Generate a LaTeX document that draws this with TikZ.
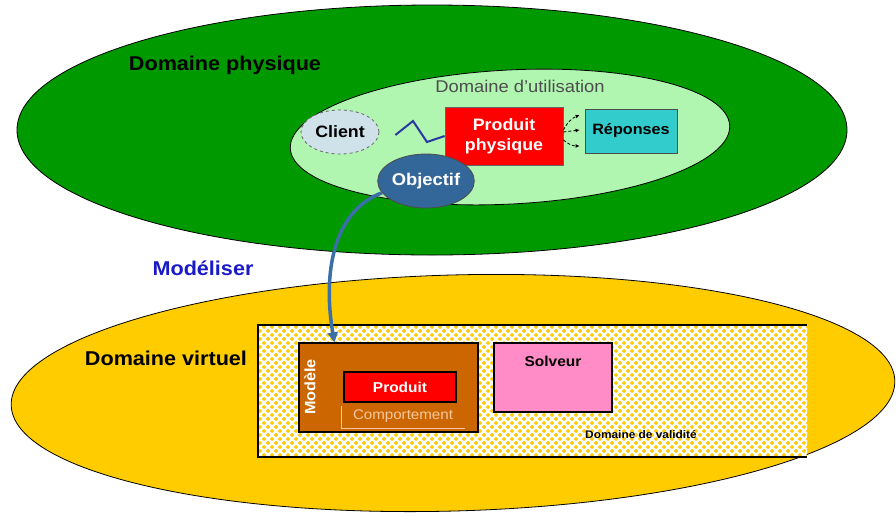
\documentclass[tikz,border=0pt]{standalone}
\usepackage{fontspec}
\setmainfont{Liberation Sans}[FakeStretch=1.08]
\usetikzlibrary{shapes.geometric,patterns.meta,arrows.meta,calc}
\definecolor{dgreen}{HTML}{009A00}
\definecolor{lgreen}{HTML}{B0F5B0}
\definecolor{clientc}{HTML}{CFE2EA}
\definecolor{cyanc}{HTML}{33CCCC}
\definecolor{objc}{HTML}{336699}
\definecolor{arrc}{HTML}{3A6FA8}
\definecolor{wavec}{HTML}{2838A0}
\definecolor{modc}{HTML}{1A1AC8}
\definecolor{yellowc}{HTML}{FFCC00}
\definecolor{brownc}{HTML}{CC6600}
\definecolor{pinkc}{HTML}{FF8CC6}
\definecolor{peach}{HTML}{F8C8A0}
\definecolor{grayt}{HTML}{4D4D4D}
\tikzdeclarepattern{
  name=mottle,
  type=uncolored,
  bottom left={(-1pt,-1pt)},
  top right={(9pt,9pt)},
  tile size={(8pt,8pt)},
  code={\draw[line width=2.2pt] (0pt,0pt) -- (8pt,8pt) (0pt,8pt) -- (8pt,0pt);}
}
\begin{document}
\begin{tikzpicture}[x=1pt,y=-1pt,
  fbig/.style={font=\bfseries\fontsize{20}{24}\selectfont},
  fb16/.style={font=\bfseries\fontsize{16.5}{20}\selectfont},
  fb17/.style={font=\bfseries\fontsize{17}{20}\selectfont},
  fb15/.style={font=\bfseries\fontsize{15}{18}\selectfont},
  fb14/.style={font=\bfseries\fontsize{14.3}{17}\selectfont},
  fb11/.style={font=\bfseries\fontsize{11}{13}\selectfont},
  fr17/.style={font=\fontsize{17}{20}\selectfont},
  fr14/.style={font=\fontsize{14}{17}\selectfont},
  oval/.style={ellipse, draw=black, line width=0.8pt, inner sep=0pt},
  box/.style={rectangle, draw=black, line width=1.2pt, inner sep=0pt},
  resp/.style={densely dashed, line width=0.8pt, -{Latex[length=4pt,width=4pt]}},
]
\useasboundingbox (0,0) rectangle (896,515);

% physical domain
\node[oval, fill=dgreen, minimum width=830pt, minimum height=250pt] (phys) at (432,130) {};
\node[fbig] (physlbl) at (225,65) {Domaine physique};
\node[oval, fill=lgreen, minimum width=440pt, minimum height=134pt, rotate=3] (util) at (510,137) {};
\node[fr17, text=grayt] (utillbl) at (520,86) {Domaine d'utilisation};
\node[oval, draw=black!60, dashed, fill=clientc, minimum width=78pt, minimum height=44pt, fb16] (client) at (340,132) {Client};
\node[box, draw=black!60, line width=0.8pt, fill=red, minimum width=118pt, minimum height=58pt, text=white, align=center, fb16] (prod) at (504,136) {Produit\\physique};
\node[box, draw=black!70, line width=0.8pt, fill=cyanc, minimum width=92pt, minimum height=44pt, fb15] (rep) at (631,131) {Réponses};
\node[oval, draw=black!70, fill=objc, minimum width=94pt, minimum height=54pt, text=white, fb17] (obj) at (426,181) {Objectif};

\draw[line width=2pt, wavec] ([xshift=16pt,yshift=-3pt]client.east) -- (413,121) -- (427,142) -- (prod.west);
\draw[resp] ([yshift=6pt]prod.east) to[bend left=20] ([xshift=-5pt,yshift=16pt]rep.west);
\draw[resp] ([yshift=4pt]prod.east) -- ([xshift=-5pt,yshift=1pt]rep.west);
\draw[resp] ([yshift=-4pt]prod.east) to[bend right=20] ([xshift=-5pt,yshift=-15pt]rep.west);

\node[fbig, text=modc] (model) at (203,268) {Modéliser};

% virtual domain
\node[oval, fill=yellowc, minimum width=884pt, minimum height=236pt, rotate=1.6] (virt) at (453,393) {};
\node[fbig] (virtlbl) at (166,358) {Domaine virtuel};
\node[rectangle, inner sep=0pt, minimum width=549pt, minimum height=132pt, fill=yellowc,
  postaction={pattern=mottle, pattern color=white}] (valid) at (532.5,391) {};
\draw[line width=1.5pt] (valid.north east) -- (valid.north west) -- (valid.south west) -- (valid.south east);

\node[box, fill=brownc, minimum width=179pt, minimum height=89pt] (modele) at (388.5,387.5) {};
\node[rotate=90, text=white, fb15] (modlbl) at (310,387) {Modèle};
\node[box, line width=1.8pt, fill=red, minimum width=112pt, minimum height=30pt, text=white, fb14] (prod2) at (400,387) {Produit};
\node[fr14, text=peach] (comp) at (403,416) {Comportement};
\draw[peach, line width=1pt] (341,406) |- (465,428);

\node[box, fill=pinkc, minimum width=118pt, minimum height=69pt] (solv) at (553,377.5) {};
\node[fb14] (solvlbl) at (553,361) {Solveur};
\node[fb11] (validlbl) at (641,435) {Domaine de validité};

\draw[line width=3.5pt, arrc, -{Triangle[length=10pt,width=10pt]}] (obj.195) .. controls (335,210) and (322,270) .. ($(modele.north west)!0.2!(modele.north east)$);
\end{tikzpicture}
\end{document}
